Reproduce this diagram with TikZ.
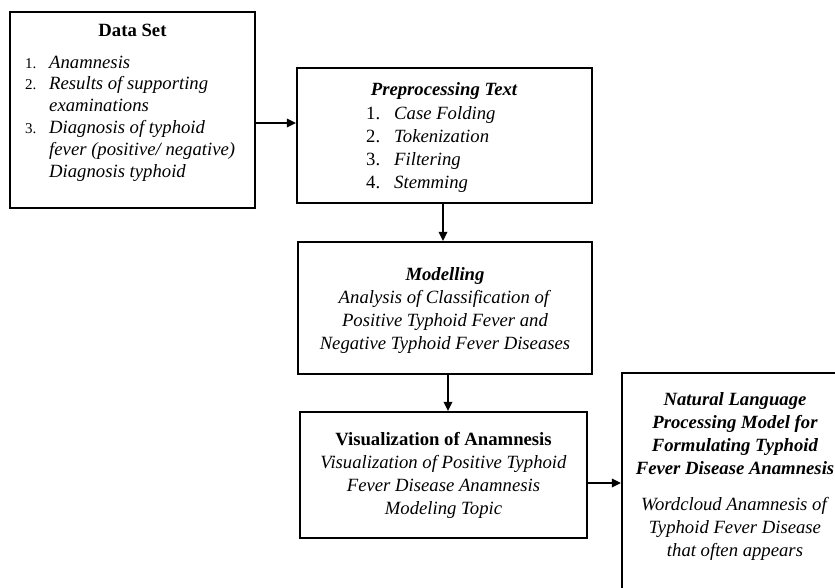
\documentclass[tikz,border=0pt]{standalone}
\usepackage{fontspec}
\setmainfont{Liberation Serif}
\usetikzlibrary{arrows.meta}
\newcommand\fsA{\fontsize{18.7}{23.3}\selectfont}
\newcommand\fsD{\fontsize{18.7}{21.8}\selectfont}
\begin{document}
\begin{tikzpicture}[x=1pt,y=-1pt,
  box/.style={draw, line width=2.2pt, inner sep=0pt, rectangle},
  txt/.style={inner sep=0pt, anchor=base, font=\fsA},
  arr/.style={line width=1.8pt, -{Triangle[length=9pt,width=8.5pt]}}]
\useasboundingbox (0,0) rectangle (835,587);
\clip (0,0) rectangle (835,587);
\setlength\tabcolsep{0pt}
% boxes
\node[box, minimum width=245, minimum height=196] (ds) at (132.5,110) {};
\node[box, minimum width=295, minimum height=135] (pp) at (444.5,135.5) {};
\node[box, minimum width=294, minimum height=132] (md) at (445,308) {};
\node[box, minimum width=287, minimum height=126] (vz) at (443.5,475) {};
\node[box, minimum width=226, minimum height=237] (nl) at (735,491.5) {};
% Data Set
\node[txt] (dst) at (132.5,36) {\bfseries Data Set};
\node[txt, anchor=base west, font=\fsD] (dsl) at (25,68) {\begin{tabular}[t]{@{}l@{}}
\makebox[24pt][l]{\fontsize{15}{21.8}\selectfont 1.}\textit{Anamnesis}\\
\makebox[24pt][l]{\fontsize{15}{21.8}\selectfont 2.}\textit{Results of supporting}\\
\makebox[24pt][l]{}\textit{examinations}\\
\makebox[24pt][l]{\fontsize{15}{21.8}\selectfont 3.}\textit{Diagnosis of typhoid}\\
\makebox[24pt][l]{}\textit{fever (positive/ negative)}\\
\makebox[24pt][l]{}\textit{Diagnosis typhoid}
\end{tabular}};
% Preprocessing
\node[txt] (ppt) at (444,95) {\bfseries\itshape Preprocessing Text};
\node[txt, anchor=base west] (ppl) at (366,119) {\begin{tabular}[t]{@{}l@{}}
\makebox[28pt][l]{1.}\textit{Case Folding}\\
\makebox[28pt][l]{2.}\textit{Tokenization}\\
\makebox[28pt][l]{3.}\textit{Filtering}\\
\makebox[28pt][l]{4.}\textit{Stemming}
\end{tabular}};
% Modelling
\node[txt] (mdt) at (445,280) {\begin{tabular}[t]{@{}c@{}}
\textbf{\textit{Modelling}}\\
\textit{Analysis of Classification of}\\
\textit{Positive Typhoid Fever and}\\
\textit{Negative Typhoid Fever Diseases}
\end{tabular}};
% Visualization
\node[txt] (vzt) at (443.5,445) {\begin{tabular}[t]{@{}c@{}}
\textbf{Visualization of Anamnesis}\\
\textit{Visualization of Positive Typhoid}\\
\textit{Fever Disease Anamnesis}\\
\textit{Modeling Topic}
\end{tabular}};
% NLP
\node[txt] (nlt) at (735,405) {\begin{tabular}[t]{@{}c@{}}
\textbf{\textit{Natural Language}}\\
\textbf{\textit{Processing Model for}}\\
\textbf{\textit{Formulating Typhoid}}\\
\textbf{\textit{Fever Disease Anamnesis}}
\end{tabular}};
\node[txt] (nlb) at (735,510) {\begin{tabular}[t]{@{}c@{}}
\textit{Wordcloud Anamnesis of}\\
\textit{Typhoid Fever Disease}\\
\textit{that often appears}
\end{tabular}};
% connectors
\draw[arr] (ds.east |- 0,123) -- (pp.west |- 0,123);
\draw[arr] ([xshift=-1.5pt]pp.south) -- ([xshift=-1.5pt]pp.south |- md.north);
\draw[arr] ([xshift=3pt]md.south) -- ([xshift=3pt]md.south |- vz.north);
\draw[arr] (vz.east |- 0,483) -- (nl.west |- 0,483);
\end{tikzpicture}
\end{document}
